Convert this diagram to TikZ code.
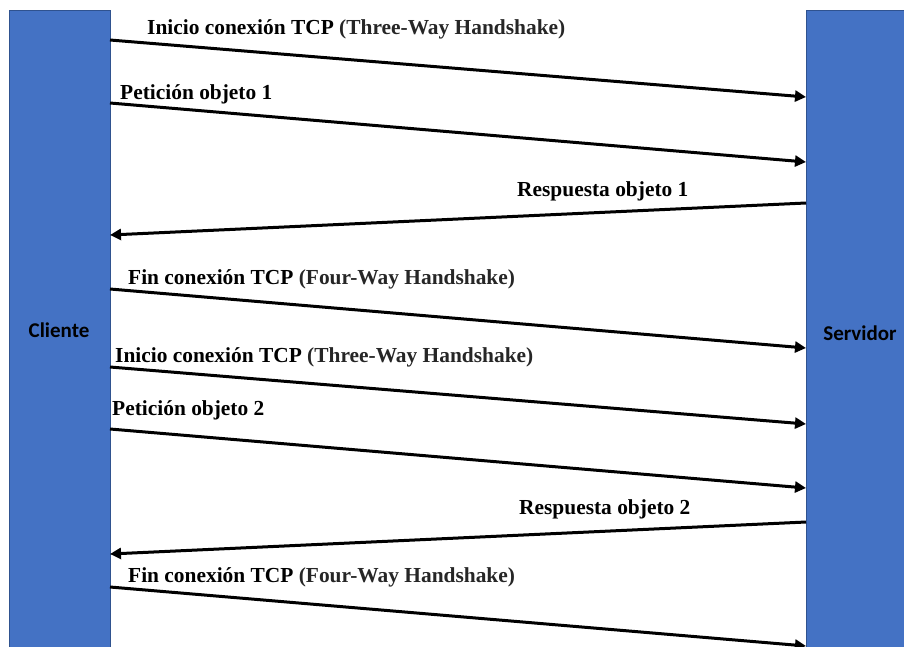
\documentclass[tikz,border=0pt]{standalone}
\usepackage{fontspec}
\setmainfont{Liberation Serif}
\newfontfamily\calfont{Carlito}
\usetikzlibrary{arrows.meta}
\definecolor{barblue}{HTML}{4472C4}
\definecolor{baredge}{HTML}{2F528F}
\definecolor{paren}{HTML}{262626}
\begin{document}
\begin{tikzpicture}[x=1pt,y=-1pt,
  bar/.style={draw=baredge,line width=0.6pt,fill=barblue},
  barlabel/.style={font=\calfont\bfseries\fontsize{21}{24}\selectfont,text=black},
  msg/.style={line width=3pt,-{Triangle[length=11pt,width=11pt]}},
  lbl/.style={anchor=base west,inner sep=0pt,font=\bfseries\fontsize{21.4}{24}\selectfont},
]
\useasboundingbox (0,0) rectangle (904,646);
\fill[white] (0,0) rectangle (904,646);
\draw[bar] (9,10) rectangle (110,660);
\draw[bar] (806,10) rectangle (910,660);
\node[barlabel] (cli) at (59,330) {Cliente};
\node[barlabel] (srv) at (860,333) {Servidor};
% endpoints
\coordinate (a1) at (110,40);  \coordinate (b1) at (806,97);
\coordinate (a2) at (110,103); \coordinate (b2) at (806,162);
\coordinate (b3) at (806,203); \coordinate (a3) at (110,235);
\coordinate (a4) at (110,289); \coordinate (b4) at (806,348);
\coordinate (a5) at (110,367); \coordinate (b5) at (806,424);
\coordinate (a6) at (110,429); \coordinate (b6) at (806,488);
\coordinate (b7) at (806,522); \coordinate (a7) at (110,554);
\coordinate (a8) at (110,587); \coordinate (b8) at (806,646);
\draw[msg] (a1) -- (b1);
\draw[msg] (a2) -- (b2);
\draw[msg] (b3) -- (a3);
\draw[msg] (a4) -- (b4);
\draw[msg] (a5) -- (b5);
\draw[msg] (a6) -- (b6);
\draw[msg] (b7) -- (a7);
\draw[msg] (a8) -- (b8);
% labels
\node[lbl] (l1) at (147,34) {Inicio conexión TCP \textcolor{paren}{(Three-Way Handshake)}};
\node[lbl] (l2) at (120,99) {Petición objeto 1};
\node[lbl] (l3) at (517,196) {Respuesta objeto 1};
\node[lbl] (l4) at (128,284) {Fin conexión TCP \textcolor{paren}{(Four-Way Handshake)}};
\node[lbl] (l5) at (115,362) {Inicio conexión TCP \textcolor{paren}{(Three-Way Handshake)}};
\node[lbl] (l6) at (112,415) {Petición objeto 2};
\node[lbl] (l7) at (519,514) {Respuesta objeto 2};
\node[lbl] (l8) at (128,582) {Fin conexión TCP \textcolor{paren}{(Four-Way Handshake)}};
\end{tikzpicture}
\end{document}
